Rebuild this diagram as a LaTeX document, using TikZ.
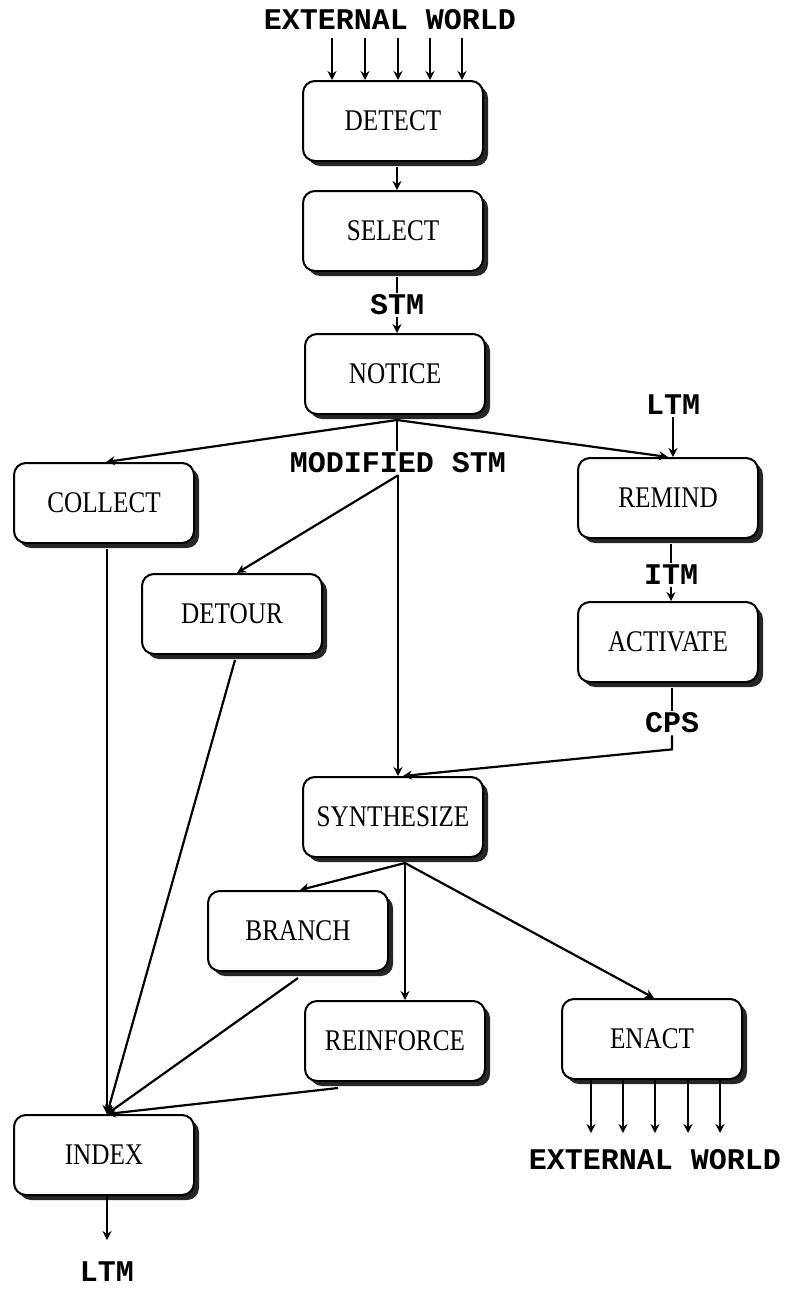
\documentclass[tikz,border=0pt]{standalone}
\usepackage{fontspec}
\usepackage{graphicx}
\usetikzlibrary{arrows.meta,shadows,calc}
\newfontfamily\lblfont{Liberation Mono}
\newfontfamily\boxfont{Liberation Serif}
\newcommand\bxt[1]{\scalebox{0.84}[1]{#1}}
\tikzset{
  box/.style={draw, line width=2pt, rounded corners=12pt, minimum width=180pt,
    minimum height=80pt, fill=white, inner sep=0pt,
    drop shadow={shadow xshift=5pt, shadow yshift=-5pt, fill=black!85, opacity=1},
    font=\boxfont\fontsize{30}{30}\selectfont},
  lbl/.style={inner sep=2pt, font=\lblfont\bfseries\fontsize{30}{30}\selectfont},
  conn/.style={line width=2.2pt},
  arr/.style={conn, -{Stealth[length=9pt,width=9pt]}},
}
\begin{document}
\begin{tikzpicture}[x=1pt,y=-1pt]
\useasboundingbox (0,0) rectangle (793,1298);
% boxes
\node[box] (detect) at (393,121) {\bxt{DETECT}};
\node[box] (select) at (393,231) {\bxt{SELECT}};
\node[box] (notice) at (395,374) {\bxt{NOTICE}};
\node[box] (collect) at (104,503) {\bxt{COLLECT}};
\node[box] (detour) at (232,614) {\bxt{DETOUR}};
\node[box] (remind) at (668,498) {\bxt{REMIND}};
\node[box] (activate) at (668,642) {\bxt{ACTIVATE}};
\node[box] (synth) at (393,817) {\bxt{SYNTHESIZE}};
\node[box] (branch) at (298,931) {\bxt{BRANCH}};
\node[box] (reinforce) at (395,1041) {\bxt{REINFORCE}};
\node[box] (enact) at (652,1039) {\bxt{ENACT}};
\node[box] (index) at (104,1155) {\bxt{INDEX}};
% labels
\node[lbl] (ext1) at (390,20) {EXTERNAL WORLD};
\node[lbl] (stm) at (397,305) {STM};
\node[lbl] (mstm) at (398,463) {MODIFIED STM};
\node[lbl] (ltm1) at (673,405) {LTM};
\node[lbl] (itm) at (671,575) {ITM};
\node[lbl] (cps) at (672,723) {CPS};
\node[lbl] (ext2) at (655,1160) {EXTERNAL WORLD};
\node[lbl] (ltm2) at (107,1272) {LTM};
% top inputs
\foreach \xx [count=\i] in {332,365,398,430,462}{
  \coordinate (t\i) at (\xx,38);
  \draw[arr] (t\i) -- (t\i |- detect.north);
}
\draw[arr] ($(detect.south)+(4,5)$) -- ($(select.north)+(4,0)$);
\draw[conn] ($(select.south)+(4,5)$) -- (stm.north);
\draw[arr] (stm.south) -- (stm.south |- notice.north);
% notice fan-out
\coordinate (nb) at ($(notice.south)+(2,5)$);
\draw[arr] (nb) -- ($(collect.north)+(2,0)$);
\draw[arr] (nb) -- (remind.north);
\draw[conn] (nb) -- (nb |- mstm.north);
% right column
\draw[arr] (ltm1.south) -- (ltm1.south |- remind.north);
\draw[conn] ($(remind.south)+(3,5)$) -- (itm.north);
\draw[arr] (itm.south) -- (itm.south |- activate.north);
\draw[conn] ($(activate.south)+(4,5)$) -- (cps.north);
\coordinate (cb) at ($(cps.south)+(0,14)$);
\draw[arr] (cps.south) -- (cb) -- ($(synth.north)+(10,0)$);
% modified stm
\draw[arr] (mstm.south) -- ($(detour.north)+(5,0)$);
\draw[arr] (mstm.south) -- (mstm.south |- synth.north);
% into index
\coordinate (ix) at ($(index.north)+(3,0)$);
\draw[arr] ($(collect.south)+(3,5)$) -- (ix);
\draw[arr] ($(detour.south)+(3,5)$) -- (ix);
\draw[arr] ($(branch.south)+(0,6)$) -- (ix);
\draw[arr] ($(reinforce.south)+(-57,6)$) -- (ix);
% synthesize fan-out
\coordinate (sb) at ($(synth.south)+(12,5)$);
\draw[arr] (sb) -- ($(branch.north)+(2,0)$);
\draw[arr] (sb) -- (sb |- reinforce.north);
\draw[arr] (sb) -- ($(enact.north)+(2,0)$);
% index output
\coordinate (ie) at (107,1240);
\draw[arr] (index.south -| ie) -- (ie);
% enact outputs
\foreach \xx [count=\i] in {591,623,655,688,720}{
  \coordinate (e\i) at (\xx,1133);
  \draw[arr] (e\i |- enact.south) -- (e\i);
}
\end{tikzpicture}
\end{document}
